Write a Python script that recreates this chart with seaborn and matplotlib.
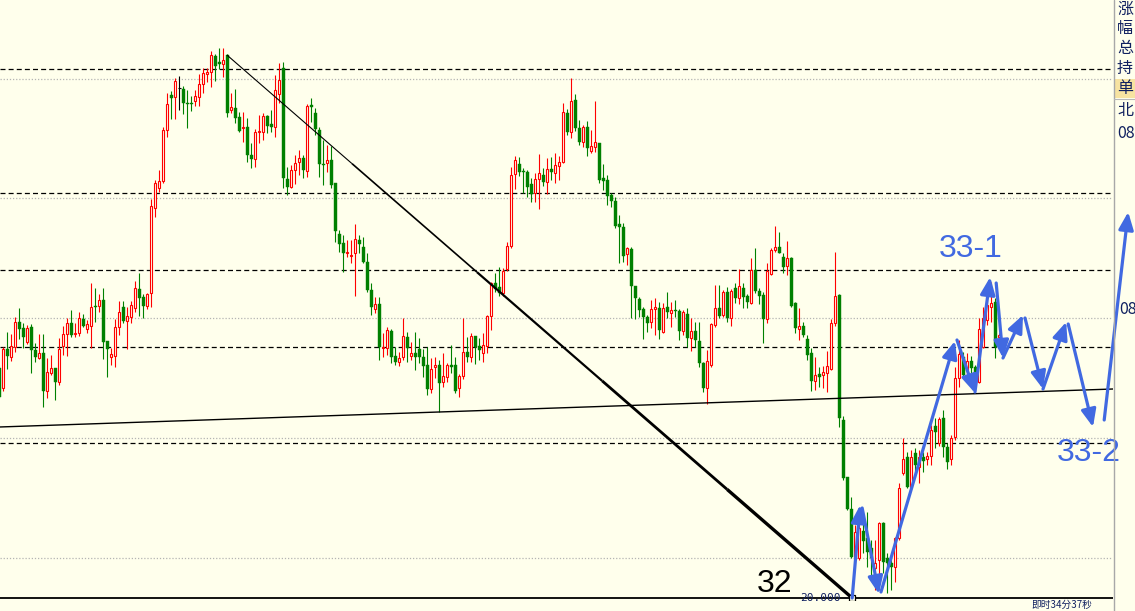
import pandas as pd
import seaborn as sns
import matplotlib.pyplot as plt
from matplotlib.lines import Line2D
from matplotlib.patches import Rectangle

# candle data, price in points above 20.000 (1 point = 0.01)
opens = [230, 210, 249, 241, 251, 276, 270, 256, 271, 248, 240, 245, 207, 225, 230, 216, 252, 264, 275, 264,
         265, 279, 269, 272, 292, 292, 298, 257, 241, 242, 271, 291, 277, 281, 290, 309, 301, 292, 305, 390,
         410, 417, 468, 503, 501, 510, 509, 495, 495, 497, 501, 514, 524, 526, 542, 536, 534, 543, 488, 490,
         481, 470, 471, 443, 439, 466, 466, 482, 474, 471, 504, 530, 419, 411, 428, 436, 440, 427, 493, 485,
         468, 434, 435, 438, 415, 364, 355, 345, 342, 345, 358, 351, 336, 308, 289, 294, 250, 250, 267, 242,
         236, 241, 261, 242, 245, 249, 241, 233, 209, 231, 233, 216, 221, 233, 233, 210, 222, 246, 241, 262,
         252, 245, 252, 282, 315, 311, 305, 329, 352, 424, 434, 427, 426, 414, 405, 419, 423, 416, 429, 425,
         432, 436, 485, 466, 498, 470, 456, 471, 447, 451, 455, 420, 418, 403, 397, 374, 371, 344, 349, 312,
         299, 289, 281, 276, 289, 290, 266, 291, 285, 288, 287, 267, 284, 260, 267, 257, 235, 210, 233, 273,
         290, 283, 306, 280, 310, 300, 310, 302, 295, 328, 307, 303, 279, 324, 348, 351, 341, 332, 340, 295,
         269, 272, 259, 245, 217, 224, 223, 225, 229, 275, 303, 178, 121, 89, 40, 40, 67, 60, 50, 30,
         38, 75, 40, 35, 31, 60, 125, 141, 111, 145, 131, 141, 139, 142, 172, 155, 180, 151, 139, 161,
         220, 241, 228, 237, 231, 216, 251, 278, 291, 296, 261]
highs = [233, 251, 266, 264, 281, 290, 275, 273, 274, 255, 264, 264, 240, 243, 230, 260, 272, 280, 288, 275,
         286, 284, 278, 315, 310, 304, 310, 257, 250, 279, 297, 297, 291, 297, 317, 325, 304, 305, 399, 418,
         428, 471, 505, 507, 520, 522, 512, 508, 502, 508, 524, 530, 530, 547, 544, 550, 550, 544, 505, 509,
         486, 486, 480, 455, 469, 483, 485, 483, 488, 523, 535, 536, 431, 433, 443, 448, 443, 494, 500, 490,
         471, 458, 453, 452, 415, 368, 363, 358, 358, 374, 363, 361, 345, 315, 301, 301, 265, 271, 269, 251,
         246, 280, 266, 256, 266, 260, 249, 251, 240, 241, 238, 245, 235, 253, 241, 224, 280, 261, 265, 262,
         260, 265, 283, 316, 325, 331, 330, 356, 431, 442, 441, 430, 428, 420, 425, 444, 430, 440, 441, 445,
         442, 495, 489, 520, 504, 478, 473, 477, 468, 497, 455, 434, 423, 405, 401, 383, 375, 351, 351, 312,
         301, 291, 283, 298, 300, 296, 295, 306, 296, 298, 289, 288, 290, 280, 276, 276, 236, 248, 275, 313,
         313, 308, 311, 309, 315, 329, 315, 304, 340, 350, 310, 306, 335, 350, 372, 366, 345, 357, 341, 296,
         290, 276, 263, 250, 241, 231, 232, 247, 279, 346, 304, 182, 121, 101, 73, 78, 76, 86, 58, 58,
         76, 76, 45, 43, 61, 115, 160, 146, 148, 150, 148, 146, 146, 173, 180, 181, 188, 155, 163, 231,
         258, 246, 245, 242, 233, 280, 291, 298, 316, 300, 265]
lows = [200, 207, 229, 237, 246, 259, 250, 254, 225, 236, 239, 191, 200, 223, 198, 213, 243, 242, 261, 261,
        262, 271, 265, 250, 276, 286, 239, 221, 233, 231, 263, 275, 249, 275, 286, 282, 280, 289, 291, 381,
        406, 415, 461, 479, 479, 488, 484, 470, 487, 492, 492, 505, 516, 511, 517, 529, 521, 481, 485, 475,
        466, 456, 436, 430, 431, 455, 458, 465, 466, 461, 495, 410, 403, 410, 414, 423, 420, 421, 476, 463,
        421, 413, 426, 410, 356, 346, 326, 341, 335, 302, 345, 335, 306, 283, 285, 238, 241, 243, 235, 233,
        232, 238, 236, 238, 228, 235, 221, 203, 205, 220, 186, 211, 216, 225, 205, 201, 219, 236, 236, 234,
        238, 236, 245, 268, 306, 302, 302, 327, 350, 409, 422, 405, 401, 396, 396, 389, 412, 404, 418, 415,
        418, 435, 463, 460, 467, 453, 451, 442, 445, 446, 415, 408, 393, 391, 370, 335, 336, 333, 280, 279,
        281, 259, 266, 270, 263, 259, 265, 280, 271, 281, 258, 263, 251, 247, 251, 231, 206, 194, 231, 271,
        280, 281, 276, 272, 295, 294, 290, 290, 294, 305, 294, 255, 275, 323, 346, 345, 325, 323, 291, 265,
        258, 261, 238, 207, 208, 211, 210, 206, 228, 272, 171, 118, 88, 40, 38, 38, 45, 31, 18, 8,
        15, 25, 5, 8, 16, 58, 123, 110, 110, 121, 115, 126, 133, 133, 150, 152, 141, 129, 133, 158,
        211, 221, 220, 225, 215, 215, 250, 273, 276, 240, 259]
closes = [201, 249, 242, 252, 276, 269, 261, 270, 248, 241, 245, 207, 226, 230, 216, 249, 264, 275, 263, 265,
          280, 272, 274, 291, 291, 298, 256, 249, 244, 271, 286, 277, 282, 293, 310, 300, 292, 304, 392, 415,
          417, 468, 494, 500, 517, 510, 495, 494, 494, 502, 514, 525, 526, 543, 532, 534, 538, 485, 491, 480,
          467, 471, 443, 439, 466, 467, 482, 472, 471, 508, 518, 420, 411, 428, 435, 440, 428, 492, 491, 469,
          434, 433, 438, 413, 367, 354, 345, 346, 343, 359, 354, 336, 308, 291, 294, 251, 251, 268, 241, 236,
          240, 262, 250, 245, 241, 241, 232, 209, 229, 233, 215, 222, 233, 231, 207, 222, 246, 241, 262, 251,
          248, 253, 282, 315, 309, 305, 327, 352, 423, 438, 426, 426, 411, 404, 419, 425, 416, 429, 426, 433,
          436, 486, 466, 497, 470, 456, 471, 450, 452, 456, 418, 417, 402, 397, 372, 371, 342, 350, 312, 300,
          288, 281, 275, 289, 291, 268, 290, 286, 288, 287, 267, 286, 260, 267, 258, 235, 210, 237, 274, 290,
          282, 306, 280, 307, 300, 312, 301, 296, 328, 307, 302, 279, 327, 348, 351, 345, 331, 340, 292, 270,
          272, 263, 243, 217, 223, 221, 226, 232, 275, 302, 180, 120, 89, 41, 66, 70, 57, 46, 40, 35,
          75, 36, 35, 31, 60, 110, 139, 111, 141, 133, 141, 137, 142, 168, 166, 179, 151, 136, 160, 220,
          244, 223, 237, 230, 216, 269, 280, 293, 295, 251, 263]

dashed_levels = [529, 405, 328, 251, 155]
dotted_levels = [519, 400, 280, 160, 40]
trend_line_x = [56.9, 213.2]
trend_line_y = [543, 0]
support_x = [0, 278.4]
support_y = [171, 209]
wave_arrows = [((213.2, 0), (215.2, 93)),
               ((215.7, 90), (219.9, 4)),
               ((220.4, 6), (238.9, 257)),
               ((239.4, 258), (243.9, 205)),
               ((243.9, 206), (247.7, 321)),
               ((249.2, 315), (250.9, 240)),
               ((250.9, 240), (255.9, 283)),
               ((256.4, 280), (260.9, 209)),
               ((260.9, 209), (266.7, 276)),
               ((267.2, 274), (273.4, 171)),
               ((276.2, 178), (282.2, 386))]
labels = [("32", 193.7, 14, "black"), ("33-1", 242.9, 349, "#4169e1"), ("33-2", 272.4, 145, "#4169e1")]
side_labels = ["涨", "幅", "总", "持", "单", "北", "08"]

bg = "#ffffec"
navy = "#102060"
W, H = 1135, 611

df = pd.DataFrame({"open": opens, "high": highs, "low": lows, "close": closes})
df["idx"] = range(len(df))
up = df[df.close > df.open]
down = df[df.close < df.open]
flat = df[df.close == df.open]

sns.set_style("white")
plt.rcParams['font.family'] = ['Liberation Sans', 'Noto Sans CJK SC', 'DejaVu Sans']

fig = plt.figure(figsize=(W / 100, H / 100), dpi=100, facecolor=bg)
ax = fig.add_axes([0, 11 / H, 1113 / W, 600 / H])
ax.set_facecolor(bg)
ax.set_xlim(0.175, 278.4)
ax.set_ylim(-2, 598)
for s in ax.spines.values():
    s.set_visible(False)
ax.set_xticks([])
ax.set_yticks([])

for lv in dashed_levels:
    ax.axhline(lv, color="black", lw=0.9, dashes=(4, 2.5), zorder=1)
for lv in dotted_levels:
    ax.axhline(lv, color="#b4b4b4", lw=0.9, dashes=(1, 1.5), zorder=1)
ax.axhline(0, color="black", lw=1.3, zorder=1)

ax.vlines(up.idx, up.low, up.high, color="red", lw=0.8, zorder=2)
ax.vlines(down.idx, down.low, down.high, color="green", lw=0.8, zorder=2)
ax.vlines(flat.idx, flat.low, flat.high, color="black", lw=0.8, zorder=2)
ax.bar(up.idx, up.close - up.open, bottom=up.open, width=0.55, facecolor=bg,
       edgecolor="red", linewidth=0.8, zorder=3)
ax.bar(down.idx, down.open - down.close, bottom=down.close, width=0.75, color="green",
       edgecolor="green", linewidth=0.3, zorder=3)
ax.hlines(flat.close, flat.idx - 0.4, flat.idx + 0.4, color="black", lw=0.8, zorder=3)

sns.lineplot(x=support_x, y=support_y, color="black", lw=1.0, ax=ax, zorder=4)

# trend line gets thicker towards its end
n = 5
for i in range(n):
    t0, t1 = i / n, (i + 1) / n
    xs = [trend_line_x[0] + (trend_line_x[1] - trend_line_x[0]) * t for t in (t0, t1)]
    ys = [trend_line_y[0] + (trend_line_y[1] - trend_line_y[0]) * t for t in (t0, t1)]
    ax.plot(xs, ys, color="black", lw=0.8 + 0.4 * i, solid_capstyle="butt", zorder=4)
ax.plot([trend_line_x[1]], [0], marker="s", ms=5, mfc=bg, mec="black", mew=0.9, zorder=5)
ax.text(200.3, 0, "20.000", fontsize=8, family="DejaVu Sans Mono", color=navy,
        ha="left", va="center", zorder=5)

for start, end in wave_arrows:
    ax.annotate("", xy=end, xytext=start, annotation_clip=False,
                arrowprops=dict(arrowstyle="-|>,head_length=0.75,head_width=0.32", color="#4169e1",
                                lw=2.3, mutation_scale=14, shrinkA=0, shrinkB=0),
                zorder=6)

for txt, x, y, c in labels:
    ax.text(x, y, txt, fontsize=23, color=c, ha="center", va="center", zorder=7)

# right info panel
fig.add_artist(Line2D([1113.5 / W] * 2, [0, 1], color="#a8a8a8", lw=1.0))
fig.add_artist(Rectangle((1114 / W, 1 - 98 / H), 21 / W, 19 / H, facecolor="#f7e3a1",
                         edgecolor="none", transform=fig.transFigure))
fig.add_artist(Line2D([1114 / W, 1], [1 - 99 / H] * 2, color="#b8b8b8", lw=0.8))
for i, txt in enumerate(side_labels):
    ypix = [9, 28, 48, 68, 89, 111, 133][i]
    fig.text(1117 / W, 1 - ypix / H, txt, fontsize=11.5, color=navy, va="center", ha="left",
             family=["Noto Sans CJK SC", "DejaVu Sans"])
fig.text(1119 / W, 1 - 310 / H, "08", fontsize=11.5, color=navy, va="center", ha="left",
         family=["Noto Sans CJK SC", "DejaVu Sans"])
fig.text(1031 / W, 1 - 605 / H, "即时34分37秒", fontsize=7, color=navy, va="center", ha="left",
         family=["Noto Sans CJK SC", "DejaVu Sans"])

fig.savefig("out.png", dpi=100, facecolor=bg)
